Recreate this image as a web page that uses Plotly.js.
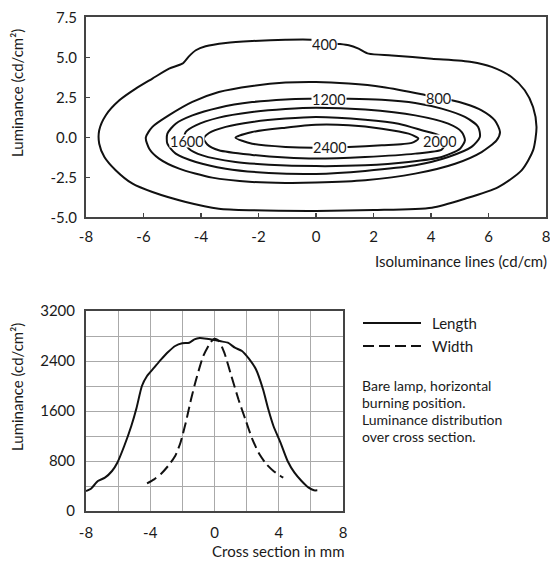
<!DOCTYPE html>
<html><head><meta charset="utf-8">
<script src="https://cdn.plot.ly/plotly-3.0.1.min.js"></script>
<style>html,body{margin:0;padding:0;background:#fff}#chart{width:550px;height:561px}</style>
</head><body><div id="chart"></div><script>
// ---- Top chart: isoluminance contour paths (x in mm, y in mm) ----
const levels = [400, 800, 1200, 1600, 2000, 2400];
const c400x = [-0.14,-1.06,-2.22,-3.14,-3.84,-4.18,-4.42,-4.65,-5.11,-5.69,-6.27,-6.84,-7.31,-7.54,-7.54,-7.36,-6.96,-6.38,-5.69,-4.53,-3.38,-2.22,0.0,2.0,4.03,5.18,6.34,7.15,7.55,7.67,7.55,7.26,6.8,6.11,5.41,4.03,2.64,1.83,1.48,1.14,0.73,0.3,-0.14];
const c400y = [6.1,6.1,6.02,5.9,5.69,5.44,5.06,4.6,4.29,3.67,3.04,2.31,1.38,0.44,-0.4,-1.23,-2.07,-2.9,-3.42,-4.04,-4.46,-4.56,-4.6,-4.55,-4.4,-3.84,-3.11,-2.07,-0.82,0.64,1.89,2.94,3.77,4.4,4.71,4.91,5.12,5.23,5.54,5.75,5.85,5.95,6.1];
const c800x = [0,-1.06,-2.22,-3.38,-4.3,-5.11,-5.69,-5.92,-5.8,-5.46,-4.76,-3.61,-2.22,-1.06,0,1.71,3.45,4.84,5.76,6.28,6.4,6.22,5.76,5.18,4.72,4.25,3.68,2.3,1.14,0];
const c800y = [3.46,3.42,3.21,2.83,2.21,1.38,0.65,-0.02,-0.71,-1.33,-1.96,-2.52,-2.79,-2.85,-2.83,-2.69,-2.27,-1.65,-0.92,-0.19,0.33,1.06,1.69,2.1,2.31,2.46,2.69,3.15,3.36,3.46];
const c1200x = [0.44,-0.25,-1.06,-2.22,-3.38,-4.3,-4.88,-5.17,-5.17,-4.88,-4.18,-3.14,-1.64,0,1.71,3.45,4.6,5.41,5.7,5.64,5.18,4.37,3.45,2.29,1.14,0.44];
const c1200y = [2.41,2.41,2.37,2.2,1.85,1.37,0.85,0.23,-0.4,-1.02,-1.54,-1.96,-2.23,-2.29,-2.1,-1.75,-1.23,-0.6,0.02,0.65,1.27,1.79,2.15,2.35,2.41,2.41];
const c1600x = [0,-1.06,-2.22,-3.38,-4.18,-4.53,-4.6,-4.42,-3.95,-2.8,-1.64,0,1.71,3.22,4.37,5.01,5.18,5.07,4.6,3.45,1.71,0];
const c1600y = [1.85,1.77,1.58,1.23,0.75,0.33,-0.2,-0.71,-1.13,-1.54,-1.71,-1.8,-1.75,-1.54,-1.23,-0.71,-0.19,0.33,0.85,1.37,1.73,1.85];
const c2000x = [0,-1.06,-2.22,-3.14,-3.72,-3.9,-3.78,-3.38,-2.22,-1.06,0,1.71,3.45,4.37,4.5,4.3,3.68,2.87,1.71,0];
const c2000y = [1.27,1.17,0.96,0.65,0.27,-0.08,-0.45,-0.81,-1.1,-1.27,-1.33,-1.23,-1.02,-0.77,-0.4,0.1,0.44,0.85,1.1,1.27];
const c2400x = [0,-1.06,-2.22,-2.8,-2.22,-1.06,0,0.5,1.14,2.29,3.33,3.56,3.22,2.29,1.14,0];
const c2400y = [0.78,0.6,0.33,-0.02,-0.4,-0.6,-0.65,-0.62,-0.6,-0.5,-0.35,-0.08,0.23,0.54,0.75,0.78];
const labelX = [0.3, 4.25, 0.44, -4.5, 4.3, 0.5];
const labelY = [5.85, 2.46, 2.41, -0.25, -0.23, -0.62];
const topXTicks = [-8,-6,-4,-2,0,2,4,6,8];
const topXText = ["-8","-6","-4","-2","0","2","4","6","8"];
const topYTicks = [-5,-2.5,0,2.5,5,7.5];
const topYText = ["-5.0","-2.5","0.0","2.5","5.0","7.5"];

// ---- Bottom chart: luminance over cross section ----
const lengthX = [-8,-7.69,-7.26,-6.82,-6.38,-6.05,-5.62,-5.18,-4.85,-4.52,-4.2,-3.76,-3.32,-2.89,-2.45,-2.01,-1.57,-1.25,-0.92,-0.48,0,0.39,0.83,1.27,1.71,2.14,2.58,3.02,3.35,3.67,4.11,4.55,4.98,5.42,5.86,6.19,6.4];
const lengthY = [320,357,480,533,640,773,1040,1360,1653,2000,2160,2293,2427,2544,2640,2683,2693,2747,2768,2757,2736,2715,2693,2613,2560,2437,2267,1947,1627,1360,1093,800,613,480,373,331,331];
const widthX = [-4.2,-3.76,-3.32,-2.89,-2.45,-2.12,-1.79,-1.46,-1.14,-0.7,-0.26,0,0.28,0.61,1.05,1.49,1.92,2.36,2.8,3.24,3.67,4.11,4.28];
const widthY = [443,507,597,720,880,1093,1413,1787,2107,2480,2693,2757,2720,2533,2160,1787,1467,1147,907,747,640,560,533];
const botXTicks = [-8,-4,0,4,8];
const botXText = ["-8","-4","0","4","8"];
const botYTicks = [0,800,1600,2400,3200];
const botYText = ["0","800","1600","2400","3200"];
const seriesNames = ["Length","Width"];
const noteLines = ["Bare lamp, horizontal","burning position.","Luminance distribution","over cross section."];

const W = 550, H = 561;
const fx = v => v / W, fy = v => 1 - v / H;
const FONT = 'Lato, "Open Sans", sans-serif';
const TXT = '#1a1a1a';
const FS = 15;
const contourXs = [c400x, c800x, c1200x, c1600x, c2000x, c2400x];
const contourYs = [c400y, c800y, c1200y, c1600y, c2000y, c2400y];

const traces = [];
levels.forEach((lv, i) => {
  traces.push({type:'scatter', mode:'lines', x:contourXs[i], y:contourYs[i], xaxis:'x', yaxis:'y',
    name:String(lv), showlegend:false, hoverinfo:'skip',
    line:{color:'#111', width:2, shape:'spline', smoothing:0.7}});
});
traces.push({type:'scatter', mode:'lines', x:lengthX, y:lengthY, xaxis:'x2', yaxis:'y2', name:seriesNames[0],
  showlegend:false, line:{color:'#111', width:2, shape:'spline', smoothing:0.6}});
traces.push({type:'scatter', mode:'lines', x:widthX, y:widthY, xaxis:'x2', yaxis:'y2', name:seriesNames[1],
  showlegend:false, line:{color:'#111', width:2, dash:'11px,5px', shape:'spline', smoothing:0.6}});

const annotations = [];
levels.forEach((lv, i) => {
  annotations.push({xref:'x', yref:'y', x:labelX[i], y:labelY[i], text:String(lv), showarrow:false,
    bgcolor:'#fff', borderpad:0, height:12, font:{family:FONT, size:14.5, color:TXT}});
});
// titles
annotations.push({xref:'paper', yref:'paper', x:fx(549), y:fy(261), xanchor:'right', yanchor:'middle',
  text:'Isoluminance lines (cd/cm)', showarrow:false, font:{family:FONT, size:FS, color:TXT}});
annotations.push({xref:'paper', yref:'paper', x:fx(17), y:fy(93), xanchor:'center', yanchor:'middle', textangle:-90,
  text:'Luminance (cd/cm\u00B2)', showarrow:false, font:{family:FONT, size:FS, color:TXT}});
annotations.push({xref:'paper', yref:'paper', x:fx(17), y:fy(387), xanchor:'center', yanchor:'middle', textangle:-90,
  text:'Luminance (cd/cm\u00B2)', showarrow:false, font:{family:FONT, size:FS, color:TXT}});
annotations.push({xref:'paper', yref:'paper', x:fx(345), y:fy(561), xanchor:'right', yanchor:'bottom',
  text:'Cross section in mm', showarrow:false, borderpad:0, font:{family:FONT, size:FS, color:TXT}});
// legend text
annotations.push({xref:'paper', yref:'paper', x:fx(430), y:fy(323), xanchor:'left', yanchor:'middle',
  text:seriesNames[0], showarrow:false, font:{family:FONT, size:FS, color:TXT}});
annotations.push({xref:'paper', yref:'paper', x:fx(430), y:fy(346), xanchor:'left', yanchor:'middle',
  text:seriesNames[1], showarrow:false, font:{family:FONT, size:FS, color:TXT}});
noteLines.forEach((t, i) => {
  annotations.push({xref:'paper', yref:'paper', x:fx(361), y:fy(385 + i * 17), xanchor:'left', yanchor:'middle',
    text:t, showarrow:false, borderpad:0, font:{family:FONT, size:14, color:TXT}});
});

const shapes = [
  {type:'line', xref:'paper', yref:'paper', x0:fx(363), x1:fx(421), y0:fy(323), y1:fy(323), line:{color:'#111', width:2}},
  {type:'line', xref:'paper', yref:'paper', x0:fx(363), x1:fx(421), y0:fy(346), y1:fy(346), line:{color:'#111', width:2, dash:'11px,5px'}}
];

const axBase = {showline:true, mirror:true, linecolor:'#444', linewidth:2, zeroline:false, fixedrange:true,
  tickfont:{family:FONT, size:FS, color:TXT}, tickmode:'array', ticklabeloverflow:'allow'};

const layout = {
  width:W, height:H, margin:{l:0, r:0, t:0, b:0}, paper_bgcolor:'#fff', plot_bgcolor:'#fff',
  showlegend:false, font:{family:FONT, color:TXT},
  xaxis: Object.assign({}, axBase, {domain:[fx(86), fx(546)], range:[-8,8], anchor:'y',
    tickvals:topXTicks, ticktext:topXText, ticks:'inside', ticklen:4, tickcolor:'#444', tickwidth:1.5,
    showgrid:false, ticklabelstandoff:5}),
  yaxis: Object.assign({}, axBase, {domain:[fy(217.3), fy(17.3)], range:[-5,7.5], anchor:'x',
    tickvals:topYTicks, ticktext:topYText, ticks:'inside', ticklen:4, tickcolor:'#444', tickwidth:1.5,
    showgrid:false, ticklabelstandoff:4}),
  xaxis2: Object.assign({}, axBase, {domain:[fx(86), fx(343)], range:[-8,8], anchor:'y2',
    tickvals:botXTicks, ticktext:botXText, ticks:'', showgrid:true, gridcolor:'#aaa', gridwidth:1,
    minor:{tickmode:'linear', tick0:-8, dtick:2, showgrid:true, gridcolor:'#aaa', gridwidth:1, ticks:''},
    ticklabelstandoff:7}),
  yaxis2: Object.assign({}, axBase, {domain:[fy(511), fy(311)], range:[0,3200], anchor:'x2',
    tickvals:botYTicks, ticktext:botYText, ticks:'', showgrid:true, gridcolor:'#aaa', gridwidth:1,
    minor:{tickmode:'linear', tick0:0, dtick:400, showgrid:true, gridcolor:'#aaa', gridwidth:1, ticks:''},
    ticklabelstandoff:6}),
  annotations: annotations,
  shapes: shapes
};

Plotly.newPlot('chart', traces, layout, {displayModeBar:false, staticPlot:true});
</script></body></html>
